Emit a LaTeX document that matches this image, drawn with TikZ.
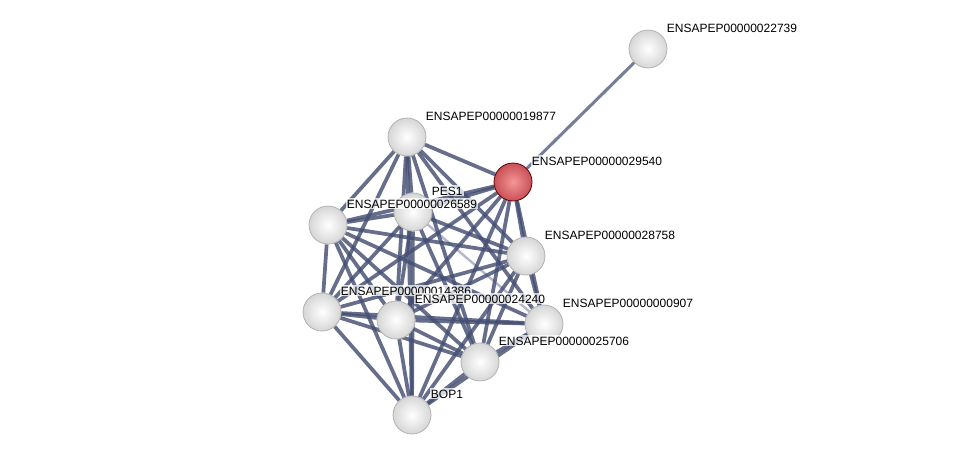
\documentclass[tikz,border=0pt]{standalone}
\usepackage{fontspec}
\setmainfont{Liberation Sans}
\usepackage{tikz}
\usetikzlibrary{backgrounds}

\definecolor{bolarojo}{RGB}{200,80,86}
\definecolor{bolarojoclaro}{RGB}{245,150,152}
\definecolor{arista}{RGB}{68,78,115}
\definecolor{aristaclara}{RGB}{118,126,156}
\definecolor{aristatenue}{RGB}{160,166,188}

\begin{document}
\begin{tikzpicture}[
    x=0.75pt, y=-0.75pt,
    font=\fontsize{9}{10}\selectfont,
    prot/.style={circle, minimum size=28.5pt, inner sep=0pt,
                 draw=gray!60, line width=0.6pt, shading=radial,
                 inner color=white, outer color=gray!32},
    sel/.style={prot, draw=red!35!black, inner color=bolarojoclaro,
                outer color=bolarojo},
    nombre/.style={anchor=base west, inner sep=1pt, fill=white,
                   fill opacity=0.75, text opacity=1},
    enlace/.style={line width=2.8pt, draw=arista, draw opacity=0.82},
    unico/.style={line width=2.3pt, draw=aristaclara},
    debil/.style={line width=1.8pt, draw=aristatenue, draw opacity=0.8}
  ]
  \useasboundingbox (0,0) rectangle (975,461);

  % --- proteinas ---
  \node[prot] (n22739) at (648,49) {};
  \node[sel]  (n29540) at (513,182) {};
  \node[prot] (n19877) at (407,137) {};
  \node[prot] (n26589) at (328,225) {};
  \node[prot] (pes1)   at (413,212) {};
  \node[prot] (n28758) at (526,256) {};
  \node[prot] (n907)   at (544,324) {};
  \node[prot] (n14386) at (322,312) {};
  \node[prot] (n24240) at (396,320) {};
  \node[prot] (n25706) at (480,362) {};
  \node[prot] (bop1)   at (412,415) {};

  % --- enlaces (por debajo de las bolas) ---
  \begin{pgfonlayer}{background}
    \draw[unico] (n29540) -- (n22739);
    \draw[debil] (pes1) -- (n907);
    \foreach \a/\b in {n29540/n19877, n29540/n26589, n29540/pes1, n29540/n28758,
                       n29540/n907, n29540/n14386, n29540/n24240, n29540/n25706,
                       n29540/bop1,
                       n19877/n26589, n19877/pes1, n19877/n28758, n19877/n907,
                       n19877/n14386, n19877/n24240, n19877/n25706, n19877/bop1,
                       n26589/pes1, n26589/n28758, n26589/n907, n26589/n14386,
                       n26589/n24240, n26589/n25706, n26589/bop1,
                       pes1/n28758, pes1/n14386, pes1/n24240, pes1/n25706,
                       pes1/bop1,
                       n28758/n907, n28758/n14386, n28758/n24240, n28758/n25706,
                       n28758/bop1,
                       n907/n14386, n907/n24240, n907/n25706, n907/bop1,
                       n14386/n24240, n14386/n25706, n14386/bop1,
                       n24240/n25706, n24240/bop1,
                       n25706/bop1}
      \draw[enlace] (\a) -- (\b);
  \end{pgfonlayer}

  % --- nombres, arriba a la derecha de cada bola ---
  \foreach \n/\t in {n22739/ENSAPEP00000022739, n19877/ENSAPEP00000019877,
                     n29540/ENSAPEP00000029540, pes1/PES1,
                     n26589/ENSAPEP00000026589, n28758/ENSAPEP00000028758,
                     n14386/ENSAPEP00000014386, n24240/ENSAPEP00000024240,
                     n907/ENSAPEP00000000907, n25706/ENSAPEP00000025706,
                     bop1/BOP1}
    \node[nombre] (l\n) at ([xshift=13pt, yshift=12.75pt]\n.center) {\t};
\end{tikzpicture}
\end{document}
